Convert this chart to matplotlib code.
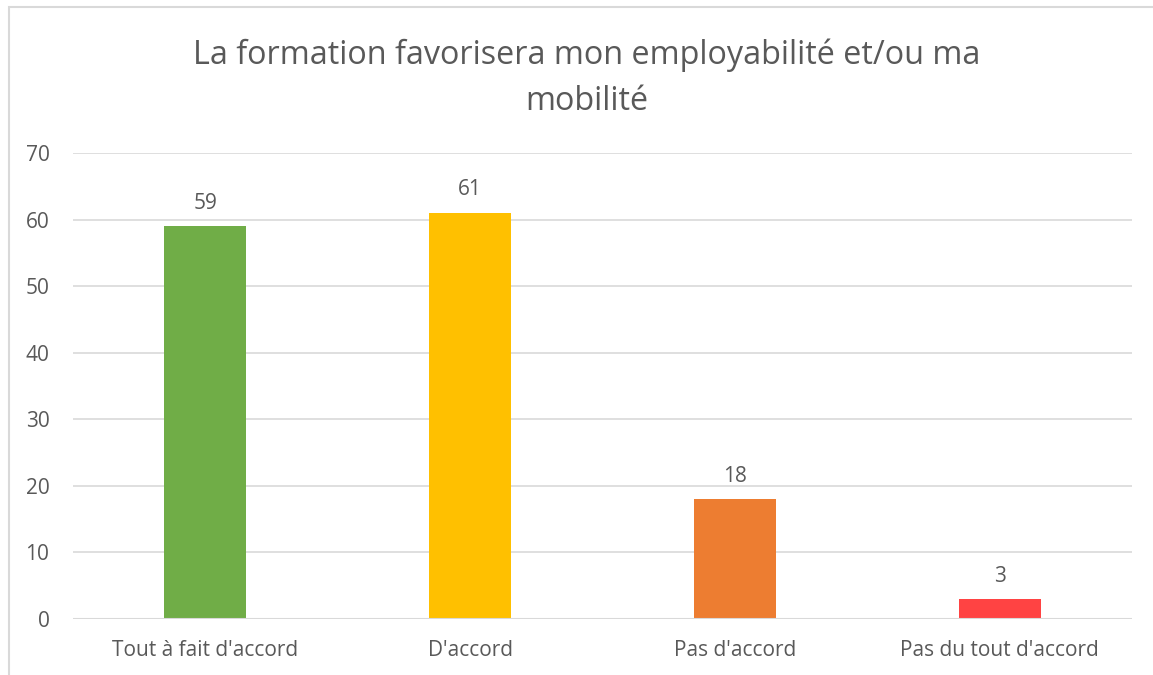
import matplotlib
matplotlib.use("Agg")
import matplotlib.pyplot as plt
from matplotlib.patches import Rectangle

categories = ["Tout à fait d'accord", "D'accord", "Pas d'accord", "Pas du tout d'accord"]
values = [59, 61, 18, 3]
colors = ["#70AD47", "#FFC000", "#ED7D31", "#FF4343"]
yticks = [0, 10, 20, 30, 40, 50, 60, 70]
title = "La formation favorisera mon employabilité et/ou ma\nmobilité"

plt.rcParams['font.family'] = ['Open Sans', 'DejaVu Sans']
txt = "#595959"

fig = plt.figure(figsize=(11.53, 6.75), dpi=100)
fig.patches.append(Rectangle((8.5/1153, -0.1), 1.2, 1.1 - 7.5/675, transform=fig.transFigure,
                             fill=False, edgecolor="#D9D9D9", linewidth=1.5))
ax = fig.add_axes([73/1153, 1-619/675, (1132-73)/1153, (619-153)/675])
x = range(len(categories))
bars = ax.bar(x, values, width=0.31, color=colors, zorder=3)
ax.set_xlim(-0.5, len(categories)-0.5)
ax.set_ylim(0, 70)
ax.set_yticks(yticks)
ax.yaxis.grid(True, color="#D9D9D9", linewidth=1.2, zorder=0)
for s in ax.spines.values():
    s.set_visible(False)
ax.axhline(0, color="#D9D9D9", linewidth=1.5, zorder=4)
ax.tick_params(axis='both', length=0, labelsize=15, colors=txt)
ax.tick_params(axis='y', pad=17)
ax.tick_params(axis='x', pad=15)
ax.set_xticks(list(x))
ax.set_xticklabels(categories)
for b, v in zip(bars, values):
    ax.annotate(str(v), (b.get_x()+b.get_width()/2, v), xytext=(0, 9), textcoords="offset points",
                ha="center", va="bottom", fontsize=15, color=txt)
fig.text(0.509, 1-78.5/675, title, ha="center", va="center", fontsize=23.3, color=txt, linespacing=1.5)
fig.savefig("out.png", dpi=100)
